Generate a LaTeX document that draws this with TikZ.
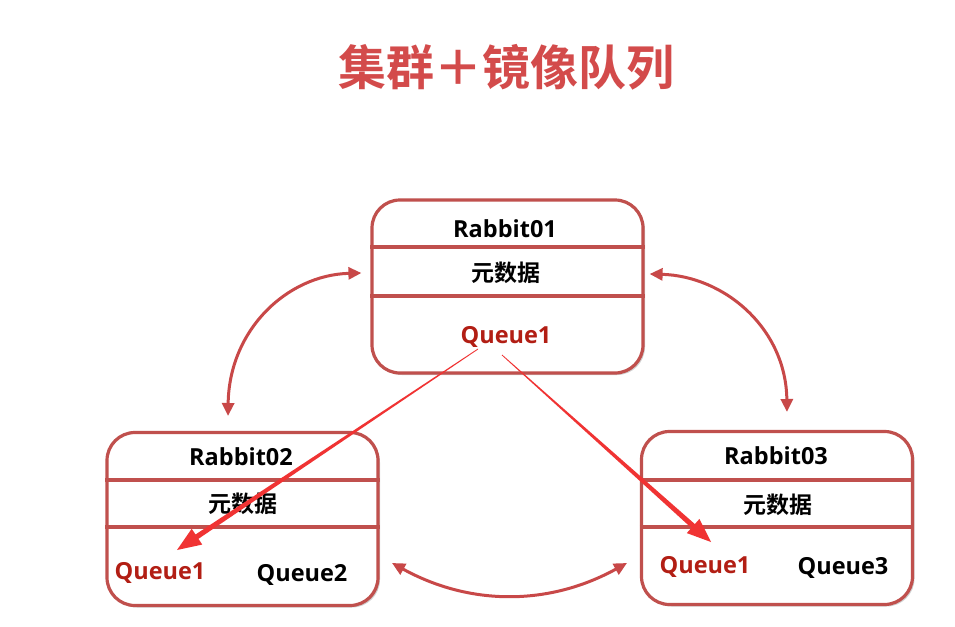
\documentclass[tikz,border=0pt]{standalone}
\usepackage{fontspec}
\setmainfont{Noto Sans CJK SC}[BoldFont={Noto Sans CJK SC Bold}]
\newfontfamily\latin{Open Sans}
\usetikzlibrary{arrows.meta,calc,shadows}
\definecolor{boxred}{HTML}{C0504D}
\definecolor{arcred}{HTML}{C84848}
\definecolor{titlered}{HTML}{D34B4B}
\definecolor{qred}{HTML}{B21E14}
\definecolor{brightred}{HTML}{F03333}
\tikzset{
  box/.style={draw=boxred, line width=3.2pt, rounded corners=28pt, fill=white,
    minimum width=271pt, minimum height=173pt, inner sep=0pt,
    drop shadow={shadow xshift=2pt, shadow yshift=-2pt, opacity=0.3, fill=black!60}},
  divider/.style={draw=boxred, line width=3.2pt},
  lbl/.style={font=\latin\bfseries\fontsize{23.5}{25}\selectfont, text=black, inner sep=0pt},
  cjklbl/.style={font=\bfseries\fontsize{23}{25}\selectfont, text=black, inner sep=0pt},
  qlbl/.style={font=\latin\bfseries\fontsize{23.5}{25}\selectfont, text=qred, inner sep=0pt},
  arcarrow/.style={draw=arcred, line width=3pt, {Triangle[length=13pt,width=12pt]}-{Triangle[length=13pt,width=12pt]}},
  ptr/.style={fill=brightred, draw=none}
}
\begin{document}
\begin{tikzpicture}[x=1pt,y=-1pt]
\useasboundingbox (0,0) rectangle (955,626);
\fill[white] (0,0) rectangle (955,626);
% title
\node[font=\bfseries\fontsize{48}{50}\selectfont, text=titlered, inner sep=0pt] (title) at (506,67) {集群＋镜像队列};
% boxes
\node[box] (r1) at (507.5,286.5) {};
\node[box] (r2) at (242.5,519) {};
\node[box] (r3) at (777,518) {};
% dividers
\draw[divider] (r1.west |- 0,247) -- (r1.east |- 0,247);
\draw[divider] (r1.west |- 0,296) -- (r1.east |- 0,296);
\draw[divider] (r2.west |- 0,480) -- (r2.east |- 0,480);
\draw[divider] (r2.west |- 0,527) -- (r2.east |- 0,527);
\draw[divider] (r3.west |- 0,480) -- (r3.east |- 0,480);
\draw[divider] (r3.west |- 0,527) -- (r3.east |- 0,527);
% texts
\node[lbl] (r1name) at (505,229) {Rabbit01};
\node[cjklbl] (r1meta) at (506,273) {元数据};
\node[qlbl] (r1q) at (506,337) {Queue1};
\node[lbl] (r2name) at (241,457) {Rabbit02};
\node[cjklbl] (r2meta) at (243,504) {元数据};
\node[qlbl] (r2q) at (160,573) {Queue1};
\node[lbl] (r2q2) at (302,575) {Queue2};
\node[lbl] (r3name) at (776,456) {Rabbit03};
\node[cjklbl] (r3meta) at (778,505) {元数据};
\node[qlbl] (r3q) at (705,567) {Queue1};
\node[lbl] (r3q3) at (843,568) {Queue3};
% curved arrows between nodes
\coordinate (c1a) at (r1.west |- 0,273);
\coordinate (c1b) at (228,416);
\draw[arcarrow] ($(c1a)+(-9,0)$) .. controls (287,275) and (229,330) .. (c1b);
\coordinate (c2a) at (r1.east |- 0,274);
\coordinate (c2b) at (787,412);
\draw[arcarrow] ($(c2a)+(5,0)$) .. controls (724,276) and (786,328) .. (c2b);
\coordinate (c3a) at (392,563);
\coordinate (c3b) at (627,563);
\draw[arcarrow] (c3a) .. controls (470,606) and (549,606) .. (c3b);
% straight mirror arrows (tapered)
\coordinate (s1) at (478,349);
\coordinate (e1) at (177,550);
\coordinate (b1) at ($(e1)!24pt!(s1)$);
\fill[ptr] ($(s1)!0.4pt!90:(e1)$) -- ($(b1)!2.6pt!90:(e1)$) -- ($(b1)!9.5pt!90:(e1)$) -- (e1)
  -- ($(b1)!9.5pt!-90:(e1)$) -- ($(b1)!2.6pt!-90:(e1)$) -- ($(s1)!0.4pt!-90:(e1)$) -- cycle;
\coordinate (s2) at (502,355);
\coordinate (e2) at (711,542);
\coordinate (b2) at ($(e2)!24pt!(s2)$);
\fill[ptr] ($(s2)!0.4pt!90:(e2)$) -- ($(b2)!2.6pt!90:(e2)$) -- ($(b2)!9.5pt!90:(e2)$) -- (e2)
  -- ($(b2)!9.5pt!-90:(e2)$) -- ($(b2)!2.6pt!-90:(e2)$) -- ($(s2)!0.4pt!-90:(e2)$) -- cycle;
\end{tikzpicture}
\end{document}
